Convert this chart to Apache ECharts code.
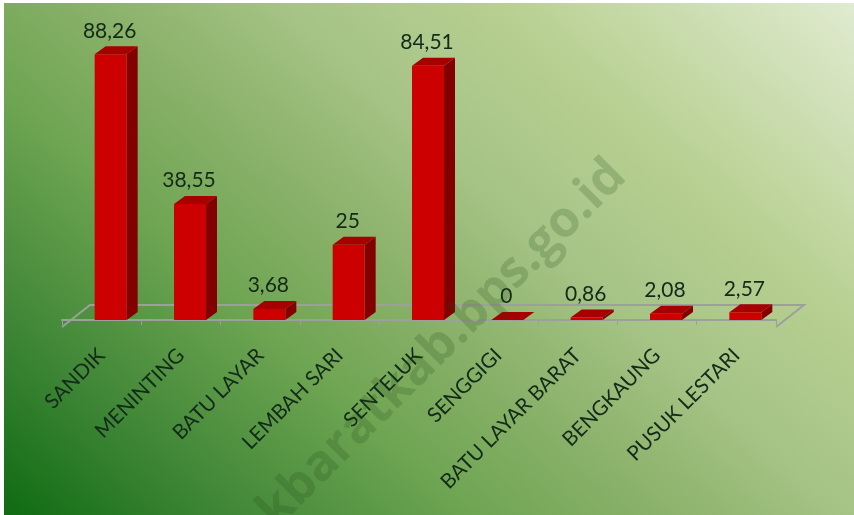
<!DOCTYPE html>
<html><head><meta charset="utf-8">
<style>html,body{margin:0;padding:0;background:#fff}#c{width:854px;height:515px}</style>
<script src="https://cdn.jsdelivr.net/npm/echarts@6/dist/echarts.min.js"></script>
</head><body><div id="c"></div>
<script>
const categories = ['SANDIK','MENINTING','BATU LAYAR','LEMBAH SARI','SENTELUK','SENGGIGI','BATU LAYAR BARAT','BENGKAUNG','PUSUK LESTARI'];
const values = [88.26,38.55,3.68,25,84.51,0,0.86,2.08,2.57];
const labels = ['88,26','38,55','3,68','25','84,51','0','0,86','2,08','2,57'];

const DX = 11, DY = 8, BW = 32, SHIFT = 9;
const FONT = 'Lato, "Open Sans", sans-serif';
const chart = echarts.init(document.getElementById('c'), null, {renderer:'canvas'});

function renderBar(params, api){
  const i = api.value(0), v = api.value(1);
  const base = api.coord([i,0]), top = api.coord([i,v]);
  const x0 = base[0] + SHIFT - BW/2, x1 = x0 + BW, y0 = base[1], y1 = top[1];
  return {type:'group', children:[
    {type:'polygon', shape:{points:[[x1,y1],[x1+DX,y1-DY],[x1+DX,y0-DY],[x1,y0]]}, style:{fill:'#820000'}},
    {type:'polygon', shape:{points:[[x0,y1],[x0+DX,y1-DY],[x1+DX,y1-DY],[x1,y1]]}, style:{fill:'#a60000'}},
    {type:'rect', shape:{x:x0,y:y1,width:BW,height:y0-y1}, style:{fill:'#cc0000'}},
    {type:'text', style:{text:labels[params.dataIndex], x:(x0+x1)/2-1, y:y1-DY-5, align:'center', verticalAlign:'bottom',
      font:'21px '+FONT, fill:'#13291a'}}
  ]};
}
function renderFloor(params, api){
  const s = api.size([1,0])[0];
  const o = api.coord([0,0]);
  const l = o[0]-s/2, r = l + s*categories.length, fy = o[1]+7, by = o[1]-15, d = 28;
  return {type:'polyline', shape:{points:[[l,fy],[l+d,by],[r+d,by],[r,fy]]},
    style:{fill:null, stroke:'#9c9f9c', lineWidth:2}, silent:true};
}
chart.setOption({
  animation:false,
  graphic:{elements:[
    {type:'rect', z:-10, shape:{x:4,y:3,width:850,height:512},
     style:{fill:new echarts.graphic.LinearGradient(4,515,642,-190,[
       {offset:0,color:'#0f6b12'},{offset:0.15,color:'#3d8535'},{offset:0.33,color:'#6ea552'},
       {offset:0.45,color:'#88b068'},{offset:0.6,color:'#a6c486'},{offset:0.75,color:'#b8d092'},{offset:1,color:'#e0ebd0'}],true)}},
    {type:'text', z:100, rotation:Math.PI/4, x:618, y:168,
     style:{text:'kbaratkab.bps.go.id', align:'right', verticalAlign:'middle',
      font:'bold 50px "Open Sans", sans-serif', fill:'rgba(30,70,20,0.2)'}}
  ]},
  grid:{left:62, width:714, top:20, height:300},
  xAxis:{type:'category', data:categories, offset:7, boundaryGap:true,
    axisLine:{show:true,lineStyle:{color:'#9c9f9c',width:2}},
    axisTick:{show:true,length:5,lineStyle:{color:'#9c9f9c',width:1}},
    axisLabel:{interval:0,rotate:45,margin:25,fontSize:20.5,color:'#13291a',fontFamily:FONT}},
  yAxis:{type:'value',min:0,max:99.67,show:false},
  series:[
    {type:'custom',renderItem:renderFloor,data:[[0,0]],encode:{x:0,y:1},z:1,clip:false},
    {type:'custom',renderItem:renderBar,data:values.map((v,i)=>[i,v]),encode:{x:0,y:1},z:2,clip:false}
  ]
});
</script></body></html>
